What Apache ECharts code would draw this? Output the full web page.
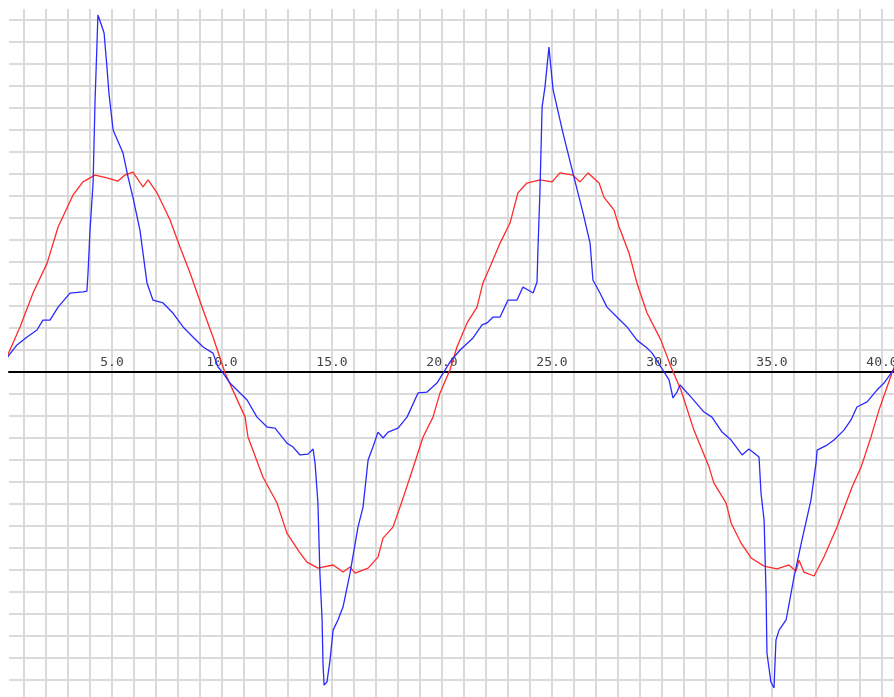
<!DOCTYPE html>
<html lang="en">
<head>
    <meta charset="UTF-8">
    <title>Waves</title>
    <script src="https://cdn.jsdelivr.net/npm/echarts@6/dist/echarts.min.js"></script>
    <style>
        html, body { margin: 0; padding: 0; background: #fff; }
        #chartmain { width: 894px; height: 697px; }
    </style>
</head>
<body>
<div id="chartmain"></div>
<script type="text/javascript">
    // x tick labels and grid positions
    var xLabelValues = [5, 10, 15, 20, 25, 30, 35, 40];
    var xGridValues = [];
    for (var i = 1; i <= 40; i++) xGridValues.push(i);
    var yGridValues = [];
    for (var j = -14; j <= 16; j++) yGridValues.push(j);

    // red curve
    var redX = [0, 0.32, 0.82, 1.41, 2.05, 2.55, 3.23, 3.68, 4.23, 4.77, 5.27, 5.59, 5.95, 6.41, 6.64, 7.05, 7.64, 8.09, 8.55, 9.14, 9.59,
        10.05, 10.14, 11.05, 11.18, 11.86, 12.5, 12.95, 13.55, 13.86, 14.36, 15.05, 15.5, 15.82, 16.05, 16.64, 17.09, 17.32, 17.77, 18.09, 18.55, 19.14, 19.59, 19.91,
        20.36, 20.68, 21.14, 21.59, 21.86, 22.18, 22.64, 23.09, 23.45, 23.86, 24.45, 25.0, 25.36, 25.95, 26.27, 26.64, 27.14, 27.36, 27.82, 28.05, 28.5, 28.86, 29.32, 29.95,
        30.41, 30.86, 31.45, 32.14, 32.36, 32.91, 33.14, 33.59, 34.05, 34.64, 35.23, 35.77, 36.09, 36.23, 36.45, 36.91, 37.36, 37.95, 38.64, 39.05, 39.5, 39.86, 40.23, 40.45, 40.6];
    var redY = [0.15, 0.91, 2.05, 3.59, 4.95, 6.59, 8.05, 8.64, 8.95, 8.82, 8.68, 8.95, 9.09, 8.41, 8.73, 8.14, 6.91, 5.68, 4.5, 2.82, 1.59,
        0.23, -0.05, -2.05, -2.95, -4.77, -5.95, -7.32, -8.23, -8.64, -8.91, -8.77, -9.09, -8.86, -9.14, -8.91, -8.41, -7.55, -7.05, -6.14, -4.77, -2.95, -2.05, -0.95,
        0.09, 1.14, 2.23, 2.95, 4.05, 4.77, 5.86, 6.77, 8.14, 8.59, 8.73, 8.64, 9.05, 8.95, 8.64, 9.05, 8.59, 7.95, 7.36, 6.59, 5.41, 4.05, 2.68, 1.45,
        0.23, -0.82, -2.64, -4.32, -5.05, -5.95, -6.86, -7.77, -8.45, -8.82, -8.95, -8.77, -9.05, -8.55, -9.09, -9.27, -8.41, -7.05, -5.23, -4.32, -2.95, -1.73, -0.68, -0.05, 0.35];

    // blue curve
    var blueX = [0, 0.32, 0.68, 1.14, 1.59, 1.86, 2.18, 2.55, 3.09, 3.68, 3.86, 3.91, 4.0, 4.14, 4.23, 4.32, 4.36, 4.55, 4.64, 4.77, 4.86, 5.05, 5.5, 5.73, 5.95, 6.27, 6.59, 6.86, 7.32, 7.77, 8.23, 8.68, 9.14, 9.59, 9.82,
        10.05, 10.36, 11.14, 11.59, 12.05, 12.41, 12.95, 13.23, 13.55, 13.91, 14.14, 14.23, 14.36, 14.45, 14.55, 14.59, 14.64, 14.77, 14.91, 15.05, 15.27, 15.5, 15.82, 16.18, 16.41, 16.64, 16.86, 17.09, 17.32, 17.55, 18.0, 18.41, 18.91, 19.32, 19.77,
        20.05, 20.36, 20.82, 21.41, 21.82, 22.05, 22.32, 22.64, 23.0, 23.41, 23.68, 23.91, 24.14, 24.32, 24.36, 24.45, 24.55, 24.68, 24.86, 25.05, 25.5, 25.95, 26.41, 26.73, 26.86, 27.18, 27.5, 27.95, 28.41, 28.86, 29.32, 29.55, 29.95,
        30.32, 30.5, 30.68, 30.82, 31.32, 31.91, 32.27, 32.73, 33.14, 33.64, 33.95, 34.41, 34.5, 34.64, 34.73, 34.77, 34.95, 35.09, 35.18, 35.32, 35.64, 36.0, 36.36, 36.77, 37.0, 37.05, 37.5, 37.82, 38.27, 38.59, 38.86, 39.32, 39.77, 40.09, 40.45, 40.6];
    var blueY = [0.3, 0.77, 1.23, 1.59, 1.91, 2.36, 2.36, 2.95, 3.59, 3.64, 3.68, 4.5, 6.45, 8.59, 12.36, 15.0, 16.23, 15.68, 15.41, 13.86, 12.68, 11.0, 9.95, 8.86, 7.95, 6.45, 4.05, 3.27, 3.14, 2.68, 2.05, 1.59, 1.14, 0.86, 0.23,
        -0.05, -0.5, -1.27, -2.05, -2.5, -2.55, -3.23, -3.41, -3.77, -3.73, -3.5, -4.14, -5.95, -9.14, -11.27, -13.23, -14.23, -14.09, -13.09, -11.73, -11.27, -10.68, -9.14, -7.05, -6.14, -4.0, -3.41, -2.73, -3.0, -2.73, -2.55, -2.05, -0.95, -0.91, -0.5,
        -0.05, 0.45, 1.0, 1.55, 2.14, 2.23, 2.5, 2.5, 3.27, 3.27, 3.86, 3.73, 3.59, 4.09, 5.55, 8.14, 12.05, 12.95, 14.77, 12.82, 10.86, 9.05, 7.23, 5.86, 4.18, 3.59, 2.95, 2.5, 2.05, 1.45, 1.09, 0.86, 0.23,
        -0.36, -1.18, -0.91, -0.59, -1.14, -1.82, -2.05, -2.73, -3.09, -3.77, -3.5, -3.86, -5.5, -6.73, -10.05, -12.77, -14.09, -14.36, -12.18, -11.73, -11.27, -9.32, -7.64, -5.82, -4.14, -3.55, -3.32, -3.09, -2.64, -2.18, -1.59, -1.36, -0.82, -0.5, 0.0, 0.2];

    function zip(xs, ys) {
        var out = [];
        for (var k = 0; k < xs.length; k++) out.push([xs[k], ys[k]]);
        return out;
    }

    var yMin = -14.77, yMax = 16.5;
    var chartH = 697, gridTop = 9, gridBottom = 0;
    // lift the x axis (line + labels) from the bottom of the grid up to y = 0
    var plotH = chartH - gridTop - gridBottom;
    var zeroOffset = -plotH * (0 - yMin) / (yMax - yMin);

    var myChart = echarts.init(document.getElementById('chartmain'));
    var option = {
        animation: false,
        backgroundColor: '#fff',
        grid: {left: 9, top: gridTop, right: 0, bottom: gridBottom, containLabel: false, outerBoundsMode: 'none'},
        xAxis: {
            type: 'value',
            min: 0.318,
            max: 40.545,
            position: 'bottom',
            offset: zeroOffset,
            axisLine: {show: true, onZero: false, lineStyle: {color: '#000', width: 2}},
            axisTick: {show: false, customValues: xGridValues},
            axisLabel: {
                inside: true,
                margin: 3,
                customValues: xLabelValues,
                formatter: function (v) { return v.toFixed(1); },
                fontFamily: 'DejaVu Sans Mono',
                fontSize: 13,
                color: '#444'
            },
            splitLine: {show: true, lineStyle: {color: '#dadada', width: 2}}
        },
        yAxis: {
            type: 'value',
            min: yMin,
            max: yMax,
            axisLine: {show: false},
            axisTick: {show: false, customValues: yGridValues},
            axisLabel: {show: false},
            splitLine: {show: true, lineStyle: {color: '#dadada', width: 2}}
        },
        series: [
            {
                type: 'line',
                data: zip(redX, redY),
                showSymbol: false,
                symbol: 'none',
                z: 3,
                lineStyle: {color: '#ff2a2a', width: 1.3}
            },
            {
                type: 'line',
                data: zip(blueX, blueY),
                showSymbol: false,
                symbol: 'none',
                z: 4,
                lineStyle: {color: '#2a2aff', width: 1.3}
            }
        ]
    };
    myChart.setOption(option);
</script>
</body>
</html>
